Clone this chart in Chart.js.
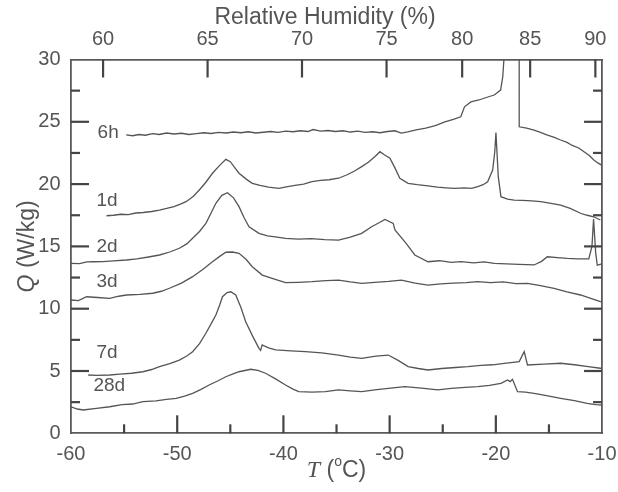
<!DOCTYPE html>
<html>
<head>
<meta charset="utf-8">
<script src="https://cdn.jsdelivr.net/npm/chart.js@4.4.1/dist/chart.umd.min.js"></script>
<style>
  html, body { margin: 0; padding: 0; background: #fff; }
</style>
</head>
<body>
<canvas id="chart" width="618" height="492"></canvas>
<script>
// curves: [T (degC), Q (W/kg)]
let q_6h = [[-54.8,23.95],[-54.2,23.88],[-53.6,23.98],[-53.0,23.92],[-52.3,24.05],[-51.7,23.98],[-51.0,24.1],[-50.3,24.02],
  [-49.6,24.08],[-48.9,23.98],[-48.2,24.05],[-47.5,24.12],[-46.8,24.06],[-46.1,24.15],[-45.4,24.1],[-44.7,24.18],[-44.0,24.12],
  [-43.3,24.2],[-42.6,24.1],[-41.9,24.16],[-41.2,24.22],[-40.5,24.15],[-39.8,24.25],[-39.1,24.2],[-38.4,24.28],[-37.7,24.22],
  [-37.2,24.38],[-36.5,24.25],[-35.8,24.3],[-35.1,24.22],[-34.4,24.28],[-33.7,24.18],[-33.0,24.25],[-32.3,24.15],[-31.6,24.2],
  [-30.9,24.12],[-30.2,24.22],[-29.5,24.28],[-28.9,24.1],[-28.3,24.2],[-27.5,24.35],[-26.6,24.5],[-25.7,24.7],[-24.8,25.0],
  [-24.0,25.2],[-23.3,25.4],[-22.95,26.2],[-22.35,26.6],[-21.6,26.75],[-20.9,26.95],[-20.15,27.15],[-19.55,27.55],[-19.35,28.6],
  [-19.2,30.5],[-19.15,32],[-17.8,32],[-17.8,24.6],[-17.1,24.5],[-16.4,24.34],[-15.8,24.15],[-15.2,23.95],[-14.5,23.75],
  [-13.9,23.54],[-13.3,23.35],[-12.8,23.1],[-12.2,22.9],[-11.7,22.6],[-11.2,22.3],[-10.8,21.95],[-10.4,21.7],[-10,21.5]];

let q_1d = [[-56.66,17.46],[-56.0,17.5],[-55.3,17.58],[-54.6,17.55],[-53.9,17.68],[-53.2,17.72],[-52.4,17.8],[-51.67,17.92],
  [-51.0,18.05],[-50.3,18.2],[-49.7,18.4],[-49.17,18.59],[-48.5,19.0],[-47.92,19.53],[-47.3,20.15],[-46.68,20.87],[-46.0,21.5],
  [-45.42,21.99],[-45.0,21.8],[-44.6,21.35],[-44.18,20.87],[-43.5,20.4],[-42.93,20.06],[-42.2,19.9],[-41.4,19.75],[-40.43,19.66],
  [-39.6,19.8],[-38.9,19.9],[-38.1,20.0],[-37.31,20.19],[-36.5,20.3],[-35.7,20.35],[-34.81,20.47],[-34.0,20.75],[-33.3,21.05],
  [-32.63,21.4],[-32.0,21.75],[-31.4,22.2],[-30.91,22.6],[-30.5,22.35],[-29.97,22.07],[-29.5,21.3],[-29.04,20.47],[-28.26,20.06],
  [-27.4,19.95],[-26.39,19.85],[-25.5,19.75],[-24.7,19.7],[-23.89,19.66],[-23.0,19.7],[-22.3,19.66],[-21.7,19.79],[-21.2,19.95],
  [-20.77,20.19],[-20.3,21.13],[-20.1,22.6],[-19.99,24.13],[-19.77,20.6],[-19.52,18.99],[-18.9,18.8],[-18.27,18.72],[-17.5,18.7],
  [-16.6,18.65],[-15.78,18.59],[-14.8,18.45],[-13.9,18.32],[-13.0,18.05],[-12.03,17.66],[-11.4,17.5],[-10.78,17.38],[-10.16,17.12]];

let q_2d = [[-60,13.64],[-59.2,13.62],[-58.5,13.75],[-57.9,13.77],[-57.0,13.78],[-56.0,13.84],[-54.78,13.91],[-53.8,14.0],
  [-52.7,14.15],[-51.67,14.31],[-50.7,14.55],[-49.8,14.85],[-49.1,15.2],[-48.55,15.65],[-47.9,16.2],[-47.3,16.85],[-46.8,17.7],
  [-46.36,18.46],[-45.8,19.1],[-45.27,19.31],[-44.7,18.9],[-44.18,18.19],[-43.7,17.3],[-43.24,16.58],[-42.3,16.05],[-41.5,15.85],
  [-40.6,15.75],[-39.8,15.65],[-38.6,15.58],[-37.4,15.62],[-36.1,15.55],[-34.81,15.51],[-33.7,15.75],[-32.63,16.05],[-31.7,16.58],
  [-31.0,16.9],[-30.44,17.17],[-29.66,16.85],[-29.5,16.32],[-28.5,15.3],[-27.63,14.31],[-26.39,13.77],[-25.3,13.85],[-24.2,13.72],
  [-23.27,13.77],[-22.1,13.68],[-21.1,13.75],[-20.14,13.64],[-19.0,13.6],[-17.8,13.55],[-16.4,13.51],[-15.7,13.8],[-15.15,14.17],
  [-14.2,14.1],[-13.28,14.04],[-12.3,14.0],[-11.25,14.0],[-10.95,15.0],[-10.8,17.2],[-10.6,14.5],[-10.45,13.5],[-10,13.6]];

let q_3d = [[-60,10.7],[-59.3,10.65],[-58.53,10.96],[-57.5,10.9],[-56.35,10.83],[-55.5,11.0],[-54.78,11.1],[-53.5,11.15],
  [-52.3,11.24],[-51.5,11.4],[-50.73,11.64],[-49.6,12.05],[-48.55,12.57],[-47.6,13.15],[-46.68,13.77],[-46.0,14.2],[-45.42,14.53],
  [-44.8,14.55],[-44.18,14.45],[-43.5,13.95],[-42.93,13.37],[-41.99,12.7],[-41.06,12.44],[-39.8,12.09],[-38.6,12.12],[-37.31,12.17],
  [-36.0,12.25],[-34.81,12.3],[-33.7,12.15],[-32.63,12.04],[-31.4,12.12],[-30.1,12.2],[-28.89,12.3],[-27.6,12.05],[-26.39,11.9],
  [-25.2,12.0],[-24.0,12.05],[-22.8,12.1],[-21.7,12.17],[-20.5,12.1],[-19.3,12.15],[-18.1,12.02],[-17.02,12.04],[-15.8,11.85],
  [-14.52,11.64],[-13.3,11.35],[-12.03,11.1],[-11.0,10.8],[-10.16,10.56],[-10,10.55]];

let q_7d = [[-58.38,4.68],[-57.6,4.65],[-56.35,4.68],[-55.4,4.75],[-54.3,4.82],[-53.23,4.94],[-52.4,5.12],[-51.67,5.35],
  [-50.7,5.6],[-49.8,5.88],[-49.1,6.2],[-48.55,6.55],[-47.9,7.2],[-47.3,8.03],[-46.8,8.8],[-46.36,9.49],[-46.0,10.3],[-45.74,10.96],
  [-45.3,11.3],[-44.95,11.36],[-44.49,11.1],[-44.0,10.1],[-43.55,8.96],[-42.9,7.8],[-42.3,6.82],[-42.15,6.65],[-42.0,7.09],
  [-41.4,6.85],[-40.74,6.69],[-39.3,6.62],[-37.93,6.55],[-36.4,6.45],[-34.81,6.28],[-33.7,6.12],[-32.63,6.02],[-31.3,6.2],
  [-30.13,6.28],[-29.2,5.85],[-28.26,5.35],[-27.3,5.2],[-26.39,5.08],[-25.1,5.2],[-23.8,5.28],[-22.64,5.35],[-21.4,5.45],
  [-20.3,5.5],[-19.2,5.62],[-17.8,5.75],[-17.33,6.55],[-17.02,5.48],[-15.5,5.55],[-13.9,5.62],[-12.6,5.5],[-11.3,5.35],
  [-10.16,5.22],[-10,5.2]];

let q_28d = [[-60,2.13],[-59.4,1.95],[-58.85,1.87],[-57.6,2.0],[-56.35,2.13],[-55.2,2.3],[-54.2,2.35],[-53.23,2.54],[-52.0,2.6],
  [-51.0,2.72],[-50.1,2.81],[-49.3,2.98],[-48.55,3.21],[-47.8,3.5],[-46.99,3.88],[-46.2,4.2],[-45.42,4.54],[-44.8,4.75],
  [-44.18,4.94],[-43.08,5.14],[-42.4,5.05],[-41.68,4.82],[-40.7,4.35],[-39.8,3.88],[-39.1,3.55],[-38.56,3.34],[-37.3,3.3],
  [-36.06,3.34],[-34.81,3.48],[-33.7,3.4],[-32.63,3.34],[-31.2,3.5],[-29.9,3.62],[-28.57,3.74],[-27.0,3.62],[-25.45,3.48],
  [-24.2,3.6],[-22.9,3.68],[-21.7,3.74],[-20.6,3.85],[-19.52,4.01],[-18.9,4.28],[-18.65,4.15],[-18.43,4.33],[-17.96,3.34],
  [-17.2,3.3],[-16.4,3.21],[-15.1,3.0],[-13.9,2.81],[-12.6,2.62],[-11.4,2.41],[-10.6,2.3],[-10,2.27]];

let curve_names = ['6h', '1d', '2d', '3d', '7d', '28d'];
let name_t = [-56.5, -56.6, -56.6, -56.6, -56.6, -56.4];
let name_q = [24.1, 18.7, 14.95, 12.2, 6.45, 3.84];

// top axis: relative humidity labels and the temperature they sit at
let rh_labels = [60, 65, 70, 75, 80, 85, 90];
let rh_temps = [-56.98, -47.14, -38.25, -30.29, -23.17, -16.77, -10.63];

let t_ticks = [-55, -50, -45, -40, -35, -30, -25, -20, -15];
let q_ticks = [2.5, 5, 7.5, 10, 12.5, 15, 17.5, 20, 22.5, 25, 27.5];

let ink = '#555555';
let frame = '#5a5a5a';
let sans = '"Liberation Sans", Arial, Helvetica, sans-serif';

function to_points(arr) {
  return arr.map(p => ({x: p[0], y: p[1]}));
}

let all_curves = [q_6h, q_1d, q_2d, q_3d, q_7d, q_28d];

let datasets = all_curves.map((c, i) => ({
  label: curve_names[i],
  data: to_points(c),
  showLine: true,
  borderColor: ink,
  borderWidth: 1.3,
  pointRadius: 0,
  tension: 0,
  xAxisID: 'x',
  yAxisID: 'y'
}));

function tick_line(ctx, x1, y1, x2, y2) {
  ctx.beginPath();
  ctx.moveTo(x1, y1);
  ctx.lineTo(x2, y2);
  ctx.stroke();
}

// inward tick marks, drawn in their own plugin after everything else
let inward_ticks = {
  id: 'inward_ticks',
  afterDraw(chart) {
    let ctx = chart.ctx;
    let a = chart.chartArea;
    let sx = chart.scales.x;
    let sy = chart.scales.y;
    ctx.save();
    ctx.setLineDash([]);
    ctx.globalAlpha = 1;
    ctx.strokeStyle = '#444444';
    ctx.lineWidth = 2.2;
    for (let v of t_ticks) {
      let len = Math.abs(v) % 10 === 0 ? 18 : 9;
      let px = sx.getPixelForValue(v);
      tick_line(ctx, px, a.bottom, px, a.bottom - len);
    }
    for (let v of rh_temps) {
      let px = sx.getPixelForValue(v);
      tick_line(ctx, px, a.top, px, a.top + 18);
    }
    for (let v of q_ticks) {
      let len = v % 5 === 0 ? 18 : 9;
      let py = sy.getPixelForValue(v);
      tick_line(ctx, a.left, py, a.left + len, py);
      tick_line(ctx, a.right, py, a.right - len, py);
    }
    ctx.restore();
  }
};

let texts = {
  id: 'texts',
  afterDraw(chart) {
    let ctx = chart.ctx;
    let a = chart.chartArea;
    let sx = chart.scales.x;
    let sy = chart.scales.y;
    ctx.save();

    // curve names
    ctx.fillStyle = ink;
    ctx.font = '19px ' + sans;
    ctx.textAlign = 'center';
    ctx.textBaseline = 'middle';
    for (let i = 0; i < curve_names.length; ++i) {
      ctx.fillText(curve_names[i], sx.getPixelForValue(name_t[i]), sy.getPixelForValue(name_q[i]));
    }

    // top title
    ctx.font = '23px ' + sans;
    ctx.fillText('Relative Humidity (%)', 325, 18);

    // bottom title: T (°C)
    let cx = (a.left + a.right) / 2;
    let by = 471;
    ctx.textAlign = 'left';
    ctx.font = 'italic 24px "Liberation Serif", "Times New Roman", serif';
    let w_t = ctx.measureText('T').width;
    ctx.font = '23px ' + sans;
    let w_open = ctx.measureText(' (').width;
    let w_c = ctx.measureText('C)').width;
    ctx.font = '14px ' + sans;
    let w_o = ctx.measureText('o').width;
    let x0 = cx - (w_t + w_open + w_o + w_c) / 2;
    ctx.font = 'italic 24px "Liberation Serif", "Times New Roman", serif';
    ctx.fillText('T', x0, by);
    ctx.font = '23px ' + sans;
    ctx.fillText(' (', x0 + w_t, by);
    ctx.font = '14px ' + sans;
    ctx.fillText('o', x0 + w_t + w_open, by - 9);
    ctx.font = '23px ' + sans;
    ctx.fillText('C)', x0 + w_t + w_open + w_o, by);

    // left title: Q (W/kg)
    ctx.translate(28, (a.top + a.bottom) / 2);
    ctx.rotate(-Math.PI / 2);
    ctx.font = 'italic 23px ' + sans;
    let w_q = ctx.measureText('Q').width;
    ctx.font = '23px ' + sans;
    let w_rest = ctx.measureText(' (W/kg)').width;
    let q0 = -(w_q + w_rest) / 2;
    ctx.font = 'italic 23px ' + sans;
    ctx.fillText('Q', q0, 0);
    ctx.font = '23px ' + sans;
    ctx.fillText(' (W/kg)', q0 + w_q, 0);

    ctx.restore();
  }
};

let tick_font = {family: sans, size: 20};

let chart = new Chart(document.getElementById('chart'), {
  type: 'scatter',
  data: {datasets: datasets},
  options: {
    responsive: false,
    animation: false,
    layout: {padding: 0},
    plugins: {legend: {display: false}, tooltip: {enabled: false}},
    scales: {
      x: {
        type: 'linear', position: 'bottom', min: -60, max: -10,
        ticks: {stepSize: 10, color: ink, font: tick_font, padding: 1.5, maxRotation: 0},
        grid: {display: false},
        border: {display: true, color: frame, width: 1.8},
        afterFit: s => { s.height = 58.7; }
      },
      x2: {
        type: 'linear', position: 'top', min: -60, max: -10,
        afterBuildTicks: s => { s.ticks = rh_temps.map(v => ({value: v})); },
        ticks: {
          callback: (v, i) => rh_labels[i],
          autoSkip: false, maxRotation: 0, color: ink, font: tick_font, padding: 0.5
        },
        grid: {display: false},
        border: {display: true, color: frame, width: 1.8},
        afterFit: s => { s.height = 59.5; }
      },
      y: {
        type: 'linear', position: 'left', min: 0, max: 30,
        ticks: {stepSize: 5, color: ink, font: tick_font, padding: 2.5},
        grid: {display: false},
        border: {display: true, color: frame, width: 1.8},
        afterFit: s => { s.width = 71; }
      },
      y2: {
        type: 'linear', position: 'right', min: 0, max: 30,
        ticks: {display: false},
        grid: {display: false},
        border: {display: true, color: frame, width: 1.8},
        afterFit: s => { s.width = 13; }
      }
    }
  },
  plugins: [texts, inward_ticks]
});
</script>
</body>
</html>
